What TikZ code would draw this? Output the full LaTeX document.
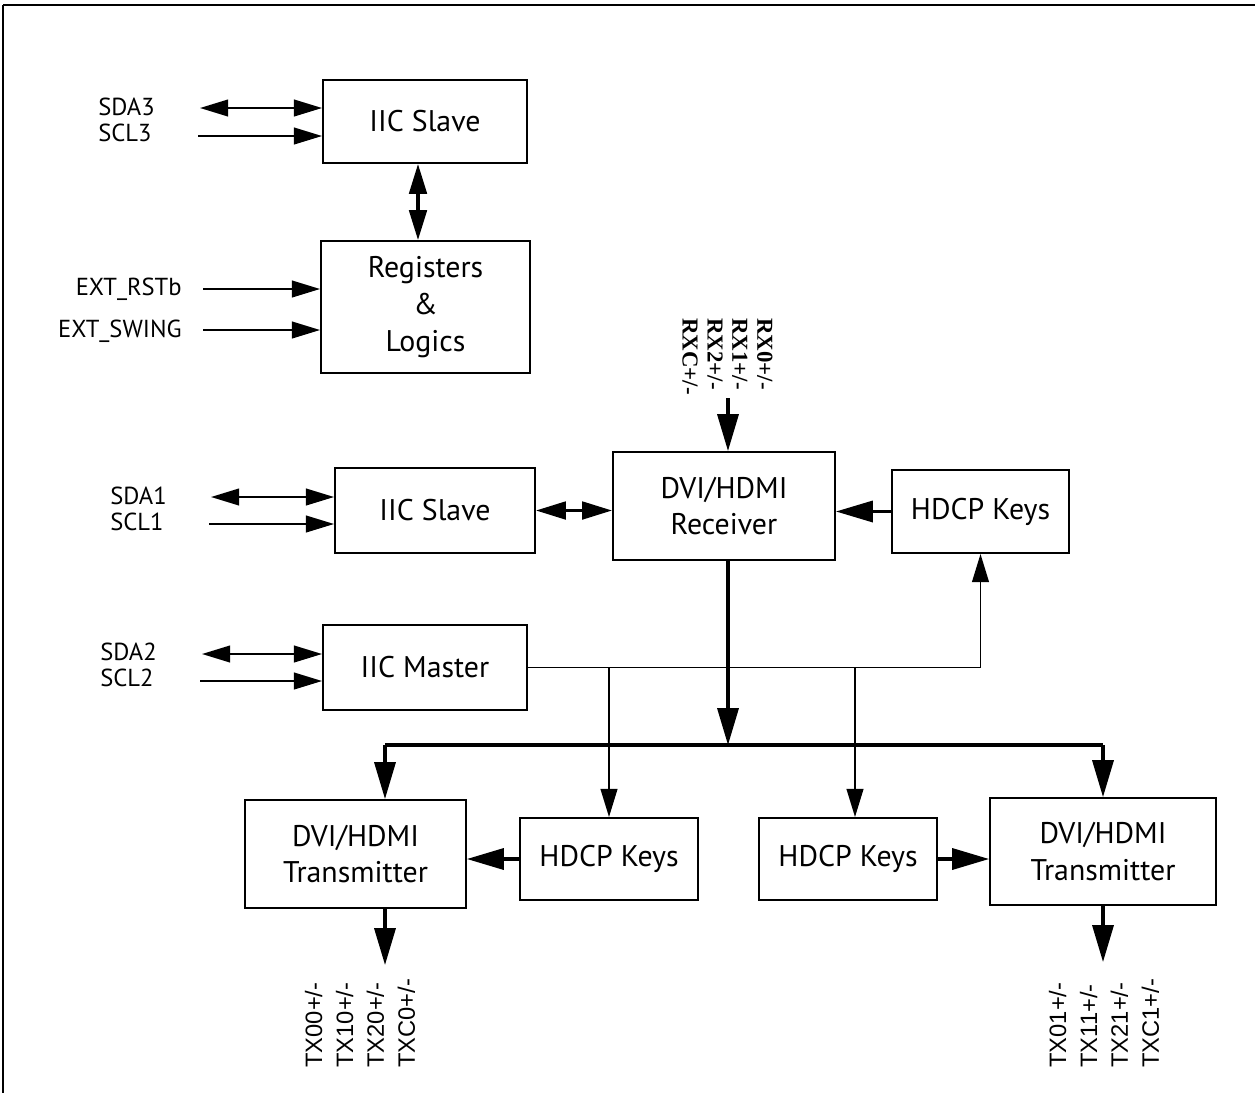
\documentclass[tikz,border=0pt]{standalone}
\usepackage{fontspec}
\setmainfont{PT Sans}
\newfontfamily\txfont{Liberation Sans}
\newfontfamily\rxfont{Liberation Serif}
\usetikzlibrary{arrows.meta,calc}

\begin{document}
\begin{tikzpicture}[x=0.02cm, y=-0.02cm,
  block/.style={draw, rectangle, line width=1.1pt, inner sep=0pt, align=center, font=\fontsize{17}{21}\selectfont},
  pin/.style={inner sep=0pt, align=left, font=\fontsize{14}{14.7}\selectfont},
  sig/.style={line width=1.1pt, -{Triangle[length=16pt,width=9.5pt]}},
  bisig/.style={line width=1.1pt, {Triangle[length=16pt,width=9.5pt]}-{Triangle[length=16pt,width=9.5pt]}},
  wire/.style={line width=1.1pt},
  bus/.style={line width=1.8pt},
  busarrow/.style={line width=1.8pt, -{Triangle[length=21pt,width=12pt]}},
  bibus/.style={line width=1.8pt, {Triangle[length=17pt,width=10pt]}-{Triangle[length=17pt,width=10pt]}}]
\useasboundingbox (0,0) rectangle (1255,1093);

% Frame
\draw[line width=1.5pt] (3,5) -- (1255,5);
\draw[line width=0.8pt] (3,5) -- (3,1093);

% Blocks
\node[block, minimum width=4.08cm, minimum height=1.66cm] (slaveA) at (425,121.5) {IIC Slave};
\node[block, minimum width=4.18cm, minimum height=2.64cm] (regs) at (425.5,307) {Registers\\\&\\Logics};
\node[block, minimum width=4.0cm, minimum height=1.7cm] (slaveB) at (435,510.5) {IIC Slave};
\node[block, minimum width=4.44cm, minimum height=2.16cm] (rx) at (724,506) {DVI/HDMI\\Receiver};
\node[block, minimum width=3.54cm, minimum height=1.66cm] (keysR) at (980.5,511.5) {HDCP Keys};
\node[block, minimum width=4.08cm, minimum height=1.7cm] (master) at (425,667.5) {IIC Master};
\node[block, minimum width=4.42cm, minimum height=2.16cm] (txL) at (355.5,854) {DVI/HDMI\\Transmitter};
\node[block, minimum width=3.56cm, minimum height=1.64cm] (keysL) at (609,859) {HDCP Keys};
\node[block, minimum width=3.56cm, minimum height=1.64cm] (keysM) at (848,859) {HDCP Keys};
\node[block, minimum width=4.52cm, minimum height=2.14cm] (txR) at (1103,851.5) {DVI/HDMI\\Transmitter};

% Pin labels
\node[pin, anchor=west] (pinsA) at (98,119.5) {SDA3\\SCL3};
\node[pin, anchor=east] (pinRst) at (182,289) {EXT\_RSTb};
\node[pin, anchor=east] (pinSwing) at (182,331) {EXT\_SWING};
\node[pin, anchor=west] (pinsB) at (110,509) {SDA1\\SCL1};
\node[pin, anchor=west] (pinsC) at (100,665) {SDA2\\SCL2};
\node[anchor=west, rotate=-90, inner sep=0pt, align=left, font=\rxfont\bfseries\fontsize{13}{14.2}\selectfont] (rxpins) at (727.5,318) {RX0+/-\\RX1+/-\\RX2+/-\\RXC+/-};
\node[anchor=west, rotate=90, inner sep=0pt, align=left, font=\txfont\fontsize{13.5}{17.6}\selectfont] (txpinsL) at (360,1068) {TX00+/-\\TX10+/-\\TX20+/-\\TXC0+/-};
\node[anchor=west, rotate=90, inner sep=0pt, align=left, font=\txfont\fontsize{13.5}{17.6}\selectfont] (txpinsR) at (1104,1068) {TX01+/-\\TX11+/-\\TX21+/-\\TXC1+/-};

% Free ends
\coordinate (sda3) at (200,108);
\coordinate (scl3) at (198,136);
\coordinate (rst) at (203,289);
\coordinate (swing) at (203,330);
\coordinate (sda1) at (211,497);
\coordinate (scl1) at (209,524);
\coordinate (sda2) at (202,654);
\coordinate (scl2) at (200,681);
\coordinate (rxin) at (728,398);
\coordinate (bus) at (728,745);
\coordinate (busL) at (385,745);
\coordinate (busR) at (1103,745);
\coordinate (outL) at (385,965);
\coordinate (outR) at (1103,962);

% Serial ports
\draw[bisig] (sda3) -- (sda3 -| slaveA.west);
\draw[sig] (scl3) -- (scl3 -| slaveA.west);
\draw[sig] (rst) -- (rst -| regs.west);
\draw[sig] (swing) -- (swing -| regs.west);
\draw[bisig] (sda1) -- (sda1 -| slaveB.west);
\draw[sig] (scl1) -- (scl1 -| slaveB.west);
\draw[bisig] (sda2) -- (sda2 -| master.west);
\draw[sig] (scl2) -- (scl2 -| master.west);

% Slave to registers
\draw[bibus] ([xshift=-0.14cm]slaveA.south) -- ([xshift=-0.14cm]slaveA.south |- regs.north);

% Receiver
\draw[busarrow] (rxin) -- (rxin |- rx.north);
\draw[bibus] (slaveB.east) -- (slaveB.east -| rx.west);
\draw[busarrow] (keysR.west) -- (keysR.west -| rx.east);
\draw[busarrow] (rx.south -| bus) -- (bus);

% Bus to transmitters
\draw[bus] (busL) -- (busR);
\draw[busarrow] (busL) -- (busL |- txL.north);
\draw[busarrow] (busR) -- (busR |- txR.north);

% Master to key stores
\draw[sig] (master.east) -| (keysR.south);
\draw[sig] (keysL.north |- master.east) -- (keysL.north);
\draw[sig] ([xshift=0.14cm]keysM.north |- master.east) -- ([xshift=0.14cm]keysM.north);

% Keys to transmitters
\draw[busarrow] (keysL.west) -- (keysL.west -| txL.east);
\draw[busarrow] (keysM.east) -- (keysM.east -| txR.west);

% Outputs
\draw[busarrow] (busL |- txL.south) -- (outL);
\draw[busarrow] (busR |- txR.south) -- (outR);

\end{tikzpicture}
\end{document}
